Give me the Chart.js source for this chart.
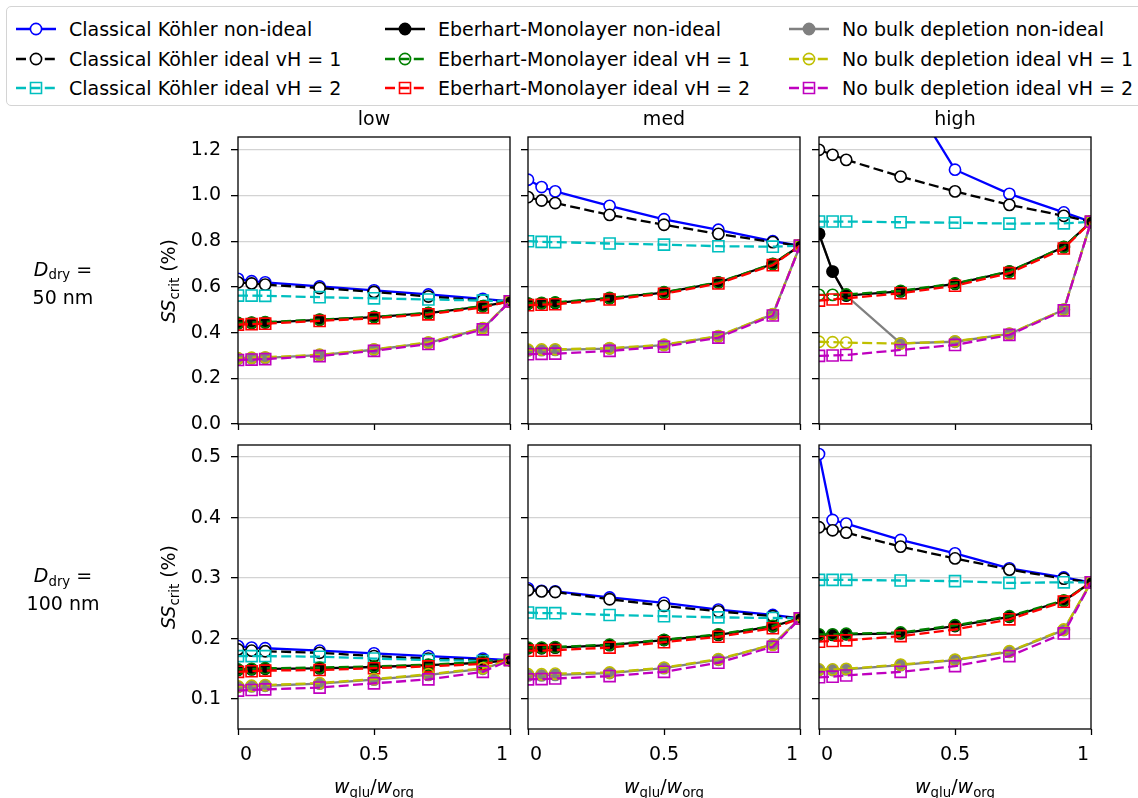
<!DOCTYPE html>
<html>
<head>
<meta charset="utf-8">
<script src="https://cdn.jsdelivr.net/npm/chart.js@4.4.1/dist/chart.umd.min.js"></script>
<style>
  html, body { margin: 0; padding: 0; background: #fff; }
  body { width: 1138px; height: 798px; position: relative; overflow: hidden;
         font-family: "DejaVu Sans", sans-serif; font-size: 19px; color: #000; }
  .txt { position: absolute; white-space: nowrap; transform: translate(-50%, -50%); line-height: 1; }
  .rot { transform: translate(-50%, -50%) rotate(-90deg); }
  .sub { font-size: 0.7em; position: relative; top: 0.3em; }
  canvas.panel { position: absolute; }
  #legend { position: absolute; left: 6px; top: 6px; width: 1160px; height: 100px;
            border: 1.5px solid #d4d4d4; border-radius: 5px; box-sizing: border-box; }
  .legItem { position: absolute; white-space: nowrap; line-height: 1; }
  .legItem canvas { position: absolute; left: 0; top: -10px; }
  .legItem span { position: absolute; left: 53px; top: -9px; }
</style>
</head>
<body>
<div id="legend"></div>

<script>
// Eje x compartido (fracción de glucosa en la materia orgánica)
var wFrac = [0, 0.05, 0.1, 0.3, 0.5, 0.7, 0.9, 1];
var xTicks = [0, 0.5, 1];
var xTickLabels = ['0', '0.5', '1'];
var yTicks50 = [0, 0.2, 0.4, 0.6, 0.8, 1.0, 1.2];
var yTicks100 = [0.1, 0.2, 0.3, 0.4, 0.5];
var columnTitles = ['low', 'med', 'high'];
var rowSizes = ['50 nm', '100 nm'];
var seriesNames = [
    'Classical Köhler non-ideal', 'Classical Köhler ideal vH = 1', 'Classical Köhler ideal vH = 2',
    'Eberhart-Monolayer non-ideal', 'Eberhart-Monolayer ideal vH = 1', 'Eberhart-Monolayer ideal vH = 2',
    'No bulk depletion non-ideal', 'No bulk depletion ideal vH = 1', 'No bulk depletion ideal vH = 2'
];

// Ddry = 50 nm, low
var d50_low_ckNI = [0.635, 0.625, 0.62, 0.602, 0.585, 0.567, 0.548, 0.537];
var d50_low_ckV1 = [0.62, 0.615, 0.61, 0.595, 0.578, 0.558, 0.541, 0.537];
var d50_low_ckV2 = [0.562, 0.562, 0.561, 0.555, 0.55, 0.545, 0.54, 0.537];
var d50_low_emNI = [0.44, 0.442, 0.444, 0.456, 0.468, 0.485, 0.515, 0.537];
var d50_low_emV1 = [0.442, 0.444, 0.446, 0.457, 0.469, 0.486, 0.516, 0.537];
var d50_low_emV2 = [0.435, 0.437, 0.439, 0.451, 0.463, 0.48, 0.51, 0.537];
var d50_low_nbNI = [0.285, 0.287, 0.289, 0.301, 0.325, 0.355, 0.418, 0.537];
var d50_low_nbV1 = [0.288, 0.29, 0.292, 0.303, 0.327, 0.357, 0.42, 0.537];
var d50_low_nbV2 = [0.28, 0.282, 0.284, 0.297, 0.32, 0.35, 0.414, 0.537];

// Ddry = 50 nm, med
var d50_med_ckNI = [1.069, 1.037, 1.018, 0.955, 0.896, 0.85, 0.80, 0.78];
var d50_med_ckV1 = [0.993, 0.978, 0.967, 0.915, 0.872, 0.832, 0.796, 0.78];
var d50_med_ckV2 = [0.80, 0.797, 0.796, 0.79, 0.785, 0.778, 0.776, 0.78];
var d50_med_emNI = [0.526, 0.528, 0.53, 0.55, 0.575, 0.619, 0.70, 0.78];
var d50_med_emV1 = [0.528, 0.53, 0.532, 0.552, 0.577, 0.62, 0.701, 0.78];
var d50_med_emV2 = [0.52, 0.522, 0.524, 0.545, 0.57, 0.615, 0.695, 0.78];
var d50_med_nbNI = [0.322, 0.323, 0.324, 0.33, 0.345, 0.383, 0.48, 0.78];
var d50_med_nbV1 = [0.325, 0.326, 0.327, 0.332, 0.347, 0.385, 0.481, 0.78];
var d50_med_nbV2 = [0.305, 0.307, 0.308, 0.32, 0.338, 0.378, 0.475, 0.78];

// Ddry = 50 nm, high
var d50_high_ckNI = [2.6, 2.1, 1.85, 1.5, 1.113, 1.007, 0.926, 0.885];
var d50_high_ckV1 = [1.20, 1.178, 1.156, 1.083, 1.018, 0.959, 0.911, 0.885];
var d50_high_ckV2 = [0.886, 0.886, 0.886, 0.883, 0.881, 0.877, 0.878, 0.885];
var d50_high_emNI = [0.832, 0.667, 0.562, 0.58, 0.613, 0.667, 0.774, 0.885];
var d50_high_emV1 = [0.565, 0.565, 0.567, 0.583, 0.615, 0.668, 0.775, 0.885];
var d50_high_emV2 = [0.54, 0.545, 0.55, 0.572, 0.605, 0.66, 0.768, 0.885];
var d50_high_nbNI = [0.832, 0.667, 0.562, 0.353, 0.36, 0.394, 0.50, 0.885];
var d50_high_nbV1 = [0.36, 0.358, 0.356, 0.352, 0.362, 0.395, 0.50, 0.885];
var d50_high_nbV2 = [0.298, 0.30, 0.302, 0.324, 0.346, 0.39, 0.497, 0.885];

// Ddry = 100 nm, low
var d100_low_ckNI = [0.1876, 0.185, 0.184, 0.18, 0.1755, 0.171, 0.167, 0.1645];
var d100_low_ckV1 = [0.182, 0.18, 0.179, 0.1765, 0.171, 0.167, 0.1645, 0.1645];
var d100_low_ckV2 = [0.171, 0.171, 0.171, 0.17, 0.167, 0.1645, 0.163, 0.1645];
var d100_low_emNI = [0.148, 0.149, 0.15, 0.1507, 0.153, 0.156, 0.16, 0.1645];
var d100_low_emV1 = [0.149, 0.15, 0.151, 0.152, 0.154, 0.157, 0.161, 0.1645];
var d100_low_emV2 = [0.145, 0.146, 0.147, 0.148, 0.151, 0.154, 0.158, 0.1645];
var d100_low_nbNI = [0.12, 0.121, 0.122, 0.1255, 0.132, 0.14, 0.15, 0.1645];
var d100_low_nbV1 = [0.121, 0.122, 0.123, 0.1265, 0.133, 0.141, 0.151, 0.1645];
var d100_low_nbV2 = [0.114, 0.115, 0.116, 0.119, 0.126, 0.1325, 0.145, 0.1645];

// Ddry = 100 nm, med
var d100_med_ckNI = [0.283, 0.279, 0.278, 0.268, 0.259, 0.248, 0.239, 0.2333];
var d100_med_ckV1 = [0.28, 0.278, 0.277, 0.265, 0.254, 0.245, 0.237, 0.2333];
var d100_med_ckV2 = [0.243, 0.242, 0.242, 0.239, 0.237, 0.235, 0.234, 0.2333];
var d100_med_emNI = [0.184, 0.184, 0.185, 0.189, 0.1975, 0.206, 0.22, 0.2333];
var d100_med_emV1 = [0.185, 0.185, 0.186, 0.19, 0.198, 0.207, 0.221, 0.2333];
var d100_med_emV2 = [0.18, 0.18, 0.181, 0.185, 0.194, 0.203, 0.217, 0.2333];
var d100_med_nbNI = [0.139, 0.139, 0.14, 0.143, 0.151, 0.165, 0.19, 0.2333];
var d100_med_nbV1 = [0.141, 0.141, 0.142, 0.144, 0.152, 0.166, 0.19, 0.2333];
var d100_med_nbV2 = [0.1325, 0.133, 0.134, 0.138, 0.145, 0.16, 0.1865, 0.2333];

// Ddry = 100 nm, high
var d100_high_ckNI = [0.505, 0.396, 0.39, 0.363, 0.341, 0.316, 0.301, 0.293];
var d100_high_ckV1 = [0.384, 0.379, 0.375, 0.352, 0.3325, 0.314, 0.299, 0.293];
var d100_high_ckV2 = [0.297, 0.297, 0.297, 0.296, 0.295, 0.292, 0.293, 0.293];
var d100_high_emNI = [0.206, 0.206, 0.207, 0.2085, 0.2207, 0.236, 0.262, 0.293];
var d100_high_emV1 = [0.207, 0.207, 0.208, 0.21, 0.222, 0.237, 0.263, 0.293];
var d100_high_emV2 = [0.1948, 0.196, 0.197, 0.204, 0.215, 0.2318, 0.261, 0.293];
var d100_high_nbNI = [0.148, 0.148, 0.149, 0.156, 0.1645, 0.178, 0.214, 0.293];
var d100_high_nbV1 = [0.149, 0.149, 0.15, 0.157, 0.165, 0.179, 0.215, 0.293];
var d100_high_nbV2 = [0.136, 0.137, 0.139, 0.145, 0.1545, 0.171, 0.2085, 0.293];

// Estilo de cada serie (mismo orden que seriesNames); z = orden de dibujo
var DASH = [10, 4.4];
var seriesStyles = [
    { color: '#0000ff', dash: [], shape: 'circle', fill: '#ffffff', z: 0 },
    { color: '#000000', dash: DASH, shape: 'circle', fill: '#ffffff', z: 1 },
    { color: '#00bfbf', dash: DASH, shape: 'rect', fill: 'rgba(0,0,0,0)', z: 2 },
    { color: '#000000', dash: [], shape: 'circle', fill: '#000000', z: 4 },
    { color: '#008000', dash: DASH, shape: 'circle', fill: 'rgba(0,0,0,0)', z: 5 },
    { color: '#ff0000', dash: DASH, shape: 'rect', fill: 'rgba(0,0,0,0)', z: 6 },
    { color: '#808080', dash: [], shape: 'circle', fill: '#808080', z: 3 },
    { color: '#bfbf00', dash: DASH, shape: 'circle', fill: 'rgba(0,0,0,0)', z: 7 },
    { color: '#bf00bf', dash: DASH, shape: 'rect', fill: 'rgba(0,0,0,0)', z: 8 }
];

var panels = [
    { row: 0, col: 0, series: [d50_low_ckNI, d50_low_ckV1, d50_low_ckV2, d50_low_emNI, d50_low_emV1, d50_low_emV2, d50_low_nbNI, d50_low_nbV1, d50_low_nbV2] },
    { row: 0, col: 1, series: [d50_med_ckNI, d50_med_ckV1, d50_med_ckV2, d50_med_emNI, d50_med_emV1, d50_med_emV2, d50_med_nbNI, d50_med_nbV1, d50_med_nbV2] },
    { row: 0, col: 2, series: [d50_high_ckNI, d50_high_ckV1, d50_high_ckV2, d50_high_emNI, d50_high_emV1, d50_high_emV2, d50_high_nbNI, d50_high_nbV1, d50_high_nbV2] },
    { row: 1, col: 0, series: [d100_low_ckNI, d100_low_ckV1, d100_low_ckV2, d100_low_emNI, d100_low_emV1, d100_low_emV2, d100_low_nbNI, d100_low_nbV1, d100_low_nbV2] },
    { row: 1, col: 1, series: [d100_med_ckNI, d100_med_ckV1, d100_med_ckV2, d100_med_emNI, d100_med_emV1, d100_med_emV2, d100_med_nbNI, d100_med_nbV1, d100_med_nbV2] },
    { row: 1, col: 2, series: [d100_high_ckNI, d100_high_ckV1, d100_high_ckV2, d100_high_emNI, d100_high_emV1, d100_high_emV2, d100_high_nbNI, d100_high_nbV1, d100_high_nbV2] }
];

// Posición de las áreas de dibujo en la página
var colBox = [{ L: 238, R: 510 }, { L: 528, R: 800 }, { L: 819, R: 1091 }];
var rowBox = [{ T: 137, B: 424, min: 0, max: 1.256, ticks: yTicks50 },
              { T: 445, B: 729, min: 0.0505, max: 0.52, ticks: yTicks100 }];

Chart.defaults.font.family = '"DejaVu Sans", sans-serif';
Chart.defaults.font.size = 19;
Chart.defaults.color = '#000';

// Recorta las series al área de dibujo (marcadores en los bordes quedan a medias)
var clipToArea = {
    id: 'clipToArea',
    beforeDatasetsDraw: function (chart) {
        var a = chart.chartArea, ctx = chart.ctx;
        ctx.save();
        ctx.beginPath();
        ctx.rect(a.left, a.top, a.right - a.left, a.bottom - a.top);
        ctx.clip();
    },
    afterDatasetsDraw: function (chart) {
        chart.ctx.restore();
    }
};

// Marco de los ejes y etiquetas del eje x (0 a la izquierda, 1 a la derecha)
var frameAndLabels = {
    id: 'frameAndLabels',
    afterDraw: function (chart) {
        var ctx = chart.ctx, a = chart.chartArea;
        ctx.save();
        ctx.strokeStyle = '#000';
        ctx.lineWidth = 1.3;
        ctx.strokeRect(a.left, a.top, a.right - a.left, a.bottom - a.top);
        if (chart.options.plugins.frameAndLabels.xLabels) {
            var xs = chart.scales.x;
            ctx.fillStyle = '#000';
            ctx.font = '19px "DejaVu Sans"';
            ctx.textBaseline = 'middle';
            xTicks.forEach(function (v, i) {
                var px = xs.getPixelForValue(v);
                if (i === 0) { ctx.textAlign = 'left'; px += 2; }
                else if (i === xTicks.length - 1) { ctx.textAlign = 'right'; px -= 2; }
                else { ctx.textAlign = 'center'; }
                ctx.fillText(xTickLabels[i], px, a.bottom + 26);
            });
        }
        ctx.restore();
    }
};

function makePanel(p) {
    var cb = colBox[p.col], rb = rowBox[p.row];
    var padL = p.col === 0 ? 60 : 24;
    var padT = 24, padR = 20;
    var padB = p.row === 1 ? 44 : 24;
    var canvas = document.createElement('canvas');
    canvas.className = 'panel';
    canvas.width = cb.R - cb.L + padL + padR;
    canvas.height = rb.B - rb.T + padT + padB;
    canvas.style.left = (cb.L - padL) + 'px';
    canvas.style.top = (rb.T - padT) + 'px';
    document.body.appendChild(canvas);

    var datasets = p.series.map(function (vals, i) {
        var st = seriesStyles[i];
        return {
            label: seriesNames[i],
            data: vals.map(function (v, k) { return { x: wFrac[k], y: v }; }),
            borderColor: st.color,
            borderWidth: 2.3,
            borderDash: st.dash,
            pointStyle: st.shape,
            pointRadius: st.shape === 'rect' ? 7.8 : 5.6,
            pointBorderWidth: 1.6,
            pointBorderColor: st.color,
            pointBackgroundColor: st.fill,
            tension: 0,
            fill: false,
            clip: false,
            order: 9 - st.z
        };
    });

    new Chart(canvas, {
        type: 'line',
        data: { datasets: datasets },
        options: {
            responsive: false,
            animation: false,
            devicePixelRatio: 1,
            layout: { padding: { top: padT, right: padR, left: 0, bottom: 0 } },
            plugins: {
                legend: { display: false },
                tooltip: { enabled: false },
                frameAndLabels: { xLabels: p.row === 1 }
            },
            scales: {
                x: {
                    type: 'linear', min: 0, max: 1,
                    afterBuildTicks: function (s) { s.ticks = xTicks.map(function (v) { return { value: v }; }); },
                    afterFit: function (s) { s.height = padB; },
                    ticks: { display: false },
                    border: { display: false },
                    grid: { drawOnChartArea: false, drawTicks: true, tickLength: 6, tickColor: '#000', tickWidth: 1.3 }
                },
                y: {
                    type: 'linear', min: rb.min, max: rb.max,
                    afterBuildTicks: function (s) { s.ticks = rb.ticks.map(function (v) { return { value: v }; }); },
                    afterFit: function (s) { s.width = padL; },
                    ticks: {
                        display: p.col === 0,
                        padding: 10,
                        callback: function (v) { return Number(v).toFixed(1); }
                    },
                    border: { display: false },
                    grid: { color: '#d3d3d3', lineWidth: 1.3, tickLength: 7, tickColor: '#000', tickWidth: 1.3 }
                }
            }
        },
        plugins: [clipToArea, frameAndLabels]
    });
}

panels.forEach(makePanel);

// Textos fuera de los paneles
function addText(html, x, y, cls) {
    var d = document.createElement('div');
    d.className = 'txt' + (cls ? ' ' + cls : '');
    d.innerHTML = html;
    d.style.left = x + 'px';
    d.style.top = y + 'px';
    document.body.appendChild(d);
}

columnTitles.forEach(function (t, c) {
    addText(t, (colBox[c].L + colBox[c].R) / 2, 118);
    addText('<i>w</i><span class="sub">glu</span>/<i>w</i><span class="sub">org</span>', (colBox[c].L + colBox[c].R) / 2, 786);
});
rowBox.forEach(function (r, k) {
    var cy = (r.T + r.B) / 2;
    addText('<i>SS</i><span class="sub">crit</span> (%)', 168, cy, 'rot');
    addText('<i>D</i><span class="sub">dry</span> =', 63, cy - 12);
    addText(rowSizes[k], 63, cy + 16);
});

// Leyenda en tres columnas (orden por columnas, como en el original)
var legend = document.getElementById('legend');
var legCols = [9, 378, 782];
var legRows = [22, 52, 81];
seriesNames.forEach(function (name, i) {
    var st = seriesStyles[i];
    var item = document.createElement('div');
    item.className = 'legItem';
    item.style.left = legCols[Math.floor(i / 3)] + 'px';
    item.style.top = legRows[i % 3] + 'px';
    var c = document.createElement('canvas');
    c.width = 40; c.height = 20;
    var g = c.getContext('2d');
    g.strokeStyle = st.color;
    g.lineWidth = 2.3;
    g.setLineDash(st.dash);
    g.beginPath(); g.moveTo(0, 10); g.lineTo(40, 10); g.stroke();
    g.setLineDash([]);
    g.lineWidth = 1.6;
    g.fillStyle = st.fill;
    g.beginPath();
    if (st.shape === 'rect') { g.rect(14.5, 4.5, 11, 11); }
    else { g.arc(20, 10, 5.6, 0, Math.PI * 2); }
    g.fill(); g.stroke();
    var s = document.createElement('span');
    s.textContent = name;
    item.appendChild(c);
    item.appendChild(s);
    legend.appendChild(item);
});
</script>
</body>
</html>
